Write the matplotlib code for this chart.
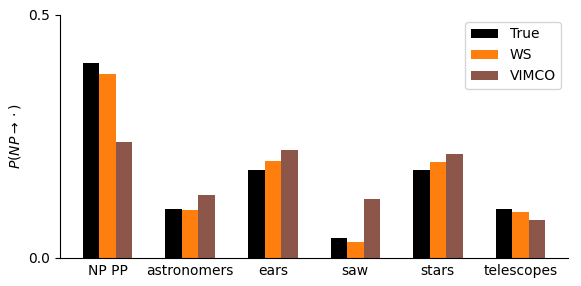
import matplotlib
matplotlib.use("Agg")
import matplotlib.pyplot as plt
import numpy as np

categories = ["NP PP", "astronomers", "ears", "saw", "stars", "telescopes"]
true_vals = [0.400, 0.100, 0.180, 0.041, 0.180, 0.100]
ws_vals = [0.378, 0.098, 0.199, 0.033, 0.198, 0.094]
vimco_vals = [0.239, 0.129, 0.222, 0.121, 0.213, 0.078]
series_names = ["True", "WS", "VIMCO"]
colors = ["black", "#ff7f0e", "#8c564b"]

fig = plt.figure(figsize=(5.81, 2.86), dpi=100)
ax = fig.add_axes([0.103, 0.098, 0.875, 0.85])
x = np.arange(len(categories))
w = 0.2
for k, (vals, name, c) in enumerate(zip([true_vals, ws_vals, vimco_vals], series_names, colors)):
    ax.bar(x + (k - 1) * w, vals, width=w, color=c, label=name)
ax.set_xticks(x)
ax.set_xticklabels(categories, fontsize=10)
ax.tick_params(axis="x", length=0, pad=4)
ax.set_ylim(0, 0.5)
ax.set_yticks([0, 0.5])
ax.set_yticklabels(["0.0", "0.5"], fontsize=10)
ax.set_ylabel(r"$P(NP \to \cdot)$", fontsize=10)
ax.spines["top"].set_visible(False)
ax.spines["right"].set_visible(False)
ax.legend(loc="upper right", fontsize=10)
fig.savefig("out.png", dpi=100)
